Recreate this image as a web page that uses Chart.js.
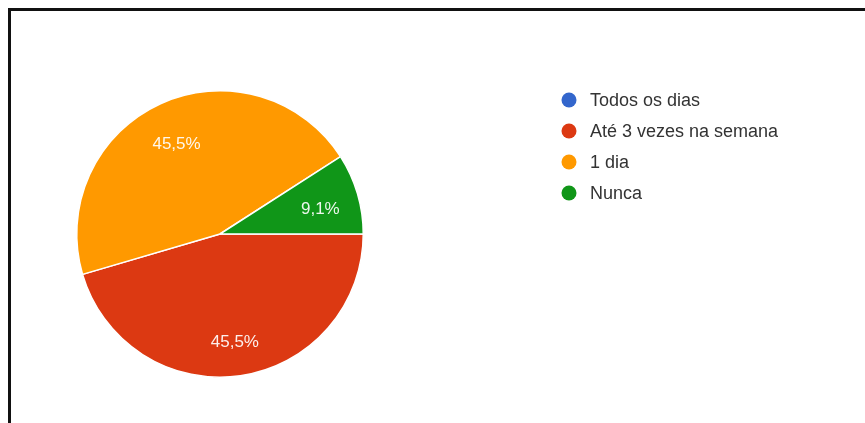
<!DOCTYPE html>
<html>
<head>
<meta charset="utf-8">
<script src="https://cdn.jsdelivr.net/npm/chart.js@4"></script>
<style>
  html, body { margin: 0; padding: 0; background: #fff; }
  #wrap { position: relative; width: 865px; height: 423px; overflow: hidden; }
  #frame {
    position: absolute; left: 8px; top: 8px; right: -10px; bottom: -10px;
    border-top: 3px solid #111; border-left: 3px solid #111;
  }
  #chart { position: absolute; left: 0; top: 0; }
</style>
</head>
<body>
<div id="wrap">
  <div id="frame"></div>
  <canvas id="chart" width="865" height="423"></canvas>
</div>
<script>
var categories = ['Todos os dias', 'Até 3 vezes na semana', '1 dia', 'Nunca'];
var responses = [0, 5, 5, 1];
var colors = ['#3366cc', '#dc3912', '#ff9900', '#109618'];

var FONT = '"Liberation Sans", Arial, sans-serif';

// percentage text inside each slice, pt-BR style decimal comma
var sliceLabels = {
    id: 'sliceLabels',
    afterDatasetsDraw: function(chart) {
        var ctx = chart.ctx;
        var meta = chart.getDatasetMeta(0);
        var total = responses.reduce(function(a, b) { return a + b; }, 0);
        ctx.save();
        ctx.font = '17px ' + FONT;
        ctx.fillStyle = 'rgba(255,255,255,0.92)';
        ctx.textAlign = 'center';
        ctx.textBaseline = 'middle';
        meta.data.forEach(function(arc, i) {
            if (!responses[i]) { return; }
            var p = arc.getProps(['x', 'y', 'startAngle', 'endAngle', 'outerRadius'], true);
            var mid = (p.startAngle + p.endAngle) / 2;
            var r = p.outerRadius * 0.73;
            var pct = (responses[i] / total * 100).toFixed(1).replace('.', ',') + '%';
            ctx.fillText(pct, p.x + Math.cos(mid) * r, p.y + Math.sin(mid) * r + 5);
        });
        ctx.restore();
    }
};

// legend on the right, dots and names
var sideLegend = {
    id: 'sideLegend',
    afterDraw: function(chart) {
        var ctx = chart.ctx;
        var x = 569, y = 100, step = 31;
        ctx.save();
        ctx.font = '18px ' + FONT;
        ctx.textBaseline = 'middle';
        categories.forEach(function(name, i) {
            ctx.beginPath();
            ctx.arc(x, y + i * step, 7.5, 0, Math.PI * 2);
            ctx.fillStyle = colors[i];
            ctx.fill();
            ctx.fillStyle = '#333';
            ctx.fillText(name, x + 21, y + i * step + 1);
        });
        ctx.restore();
    }
};

new Chart(document.getElementById('chart'), {
    type: 'pie',
    data: {
        labels: categories,
        datasets: [{
            data: responses,
            backgroundColor: colors,
            borderColor: '#ffffff',
            borderWidth: 1.5
        }]
    },
    options: {
        responsive: false,
        animation: false,
        rotation: 90,
        layout: { padding: { left: 76, top: 90, right: 501, bottom: 45 } },
        plugins: {
            legend: { display: false },
            tooltip: { enabled: false }
        }
    },
    plugins: [sliceLabels, sideLegend]
});
</script>
</body>
</html>
